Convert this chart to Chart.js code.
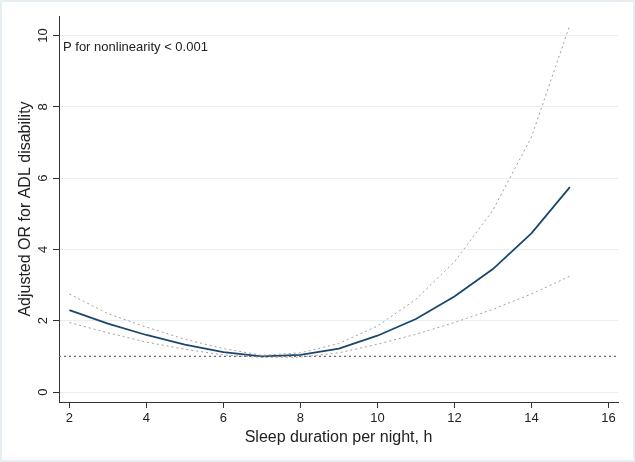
<!DOCTYPE html>
<html>
<head>
<meta charset="utf-8">
<script src="https://cdn.jsdelivr.net/npm/chart.js@4"></script>
<style>
  html, body { margin: 0; padding: 0; background: #fff; }
  #wrap { width: 635px; height: 462px; }
</style>
</head>
<body>
<div id="wrap"><canvas id="myChart" width="635" height="462"></canvas></div>
<script>
// sleep duration (h) and estimated OR with 95% CI
const hours = [2, 3, 4, 5, 6, 7, 8, 9, 10, 11, 12, 13, 14, 15];
const orEst = [2.30, 1.92, 1.60, 1.33, 1.12, 1.00, 1.04, 1.22, 1.58, 2.05, 2.68, 3.45, 4.45, 5.75];
const upperCI = [2.75, 2.20, 1.82, 1.48, 1.22, 1.03, 1.10, 1.36, 1.85, 2.60, 3.65, 5.10, 7.15, 10.3];
const lowerCI = [1.95, 1.66, 1.40, 1.20, 1.04, 0.97, 0.98, 1.10, 1.34, 1.62, 1.95, 2.32, 2.75, 3.25];
const refLine = [1, 1];
const refX = [1.73, 16.25];
const yTicks = [0, 2, 4, 6, 8, 10];

function pts(xs, ys) {
  return xs.map((x, i) => ({ x: x, y: ys[i] }));
}

const FONT = "'Liberation Sans', Arial, sans-serif";

// y tick labels are rotated in the original, so draw them by hand from the scale
const rotatedYLabels = {
  id: "rotatedYLabels",
  afterDraw(chart) {
    const ctx = chart.ctx;
    const y = chart.scales.y;
    ctx.save();
    ctx.fillStyle = "#222";
    ctx.font = "13px " + FONT;
    ctx.textAlign = "center";
    ctx.textBaseline = "middle";
    yTicks.forEach((v) => {
      const py = y.getPixelForValue(v);
      ctx.save();
      ctx.translate(43, py);
      ctx.rotate(-Math.PI / 2);
      ctx.fillText(String(v), 0, 0);
      ctx.restore();
    });
    // annotation
    ctx.textAlign = "left";
    ctx.font = "13px " + FONT;
    ctx.fillText("P for nonlinearity < 0.001", chart.chartArea.left + 4, 47);
    ctx.restore();
  },
  beforeDraw(chart) {
    const ctx = chart.ctx;
    ctx.save();
    ctx.fillStyle = "#fff";
    ctx.fillRect(0, 0, chart.width, chart.height);
    ctx.strokeStyle = "#e6eef1";
    ctx.lineWidth = 2;
    ctx.strokeRect(1, 1, chart.width - 2, chart.height - 2);
    ctx.restore();
  }
};

var ctx = document.getElementById("myChart");
new Chart(ctx, {
  type: "line",
  data: {
    datasets: [
      {
        data: pts(refX, refLine),
        borderColor: "#6a6a6a",
        borderWidth: 1.2,
        borderDash: [2, 3],
        pointRadius: 0,
        fill: false
      },
      {
        data: pts(hours, upperCI),
        borderColor: "#a0a0a0",
        borderWidth: 1,
        borderDash: [2, 3],
        pointRadius: 0,
        fill: false
      },
      {
        data: pts(hours, lowerCI),
        borderColor: "#a0a0a0",
        borderWidth: 1,
        borderDash: [2, 3],
        pointRadius: 0,
        fill: false
      },
      {
        data: pts(hours, orEst),
        borderColor: "#1a476f",
        borderWidth: 1.8,
        pointRadius: 0,
        fill: false
      }
    ]
  },
  options: {
    responsive: false,
    animation: false,
    layout: { padding: { top: 16, right: 17, left: 0, bottom: 0 } },
    plugins: {
      legend: { display: false },
      tooltip: { enabled: false }
    },
    scales: {
      x: {
        type: "linear",
        min: 1.73,
        max: 16.25,
        afterFit: (s) => { s.height = 60; },
        ticks: {
          stepSize: 2,
          includeBounds: false,
          color: "#222",
          font: { size: 13, family: FONT },
          padding: 3,
          maxRotation: 0
        },
        grid: {
          drawOnChartArea: false,
          tickColor: "#333",
          tickLength: 6
        },
        border: { color: "#333", width: 1 },
        title: {
          display: true,
          text: "Sleep duration per night, h",
          color: "#222",
          font: { size: 16, family: FONT },
          padding: { top: 0, bottom: 15 }
        }
      },
      y: {
        type: "linear",
        min: -0.28,
        max: 10.55,
        afterFit: (s) => { s.width = 59; },
        afterBuildTicks: (s) => { s.ticks = yTicks.map((v) => ({ value: v })); },
        ticks: {
          display: false,
          font: { size: 13, family: FONT }
        },
        grid: {
          color: "#e6eff1",
          lineWidth: 1,
          tickColor: "#333",
          tickLength: 6
        },
        border: { color: "#333", width: 1 },
        title: {
          display: true,
          text: "Adjusted OR for ADL disability",
          color: "#222",
          font: { size: 16, family: FONT },
          padding: { top: 16, bottom: 0 }
        }
      }
    }
  },
  plugins: [rotatedYLabels]
});
</script>
</body>
</html>
